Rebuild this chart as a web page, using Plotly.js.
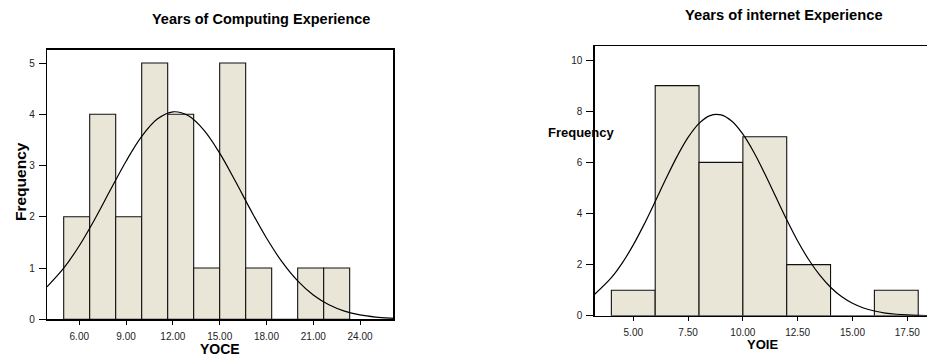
<!DOCTYPE html>
<html>
<head>
<meta charset="utf-8">
<script src="https://cdn.plot.ly/plotly-3.0.1.min.js"></script>
<style>html,body{margin:0;padding:0;background:#fff;}#chart{width:927px;height:364px;}</style>
</head>
<body>
<div id="chart"></div>
<script>
// ---- Data: Years of Computing Experience (YOCE) ----
const yoceBinStart = 5.0;
const yoceBinWidth = 5 / 3;
const yoceCounts = [2, 4, 2, 5, 4, 1, 5, 1, 0, 1, 1];
// normal curve overlay
const yoceCurveX = [3.93, 5, 6, 7, 8, 9, 10, 11, 12, 13, 14, 15, 16, 17, 18, 19, 20, 21, 22, 23, 24, 25, 26, 26.13];
const yoceCurveY = [0.635, 0.997, 1.436, 1.957, 2.526, 3.085, 3.568, 3.906, 4.048, 3.971, 3.687, 3.242, 2.698, 2.125, 1.585, 1.119, 0.748, 0.473, 0.283, 0.160, 0.086, 0.044, 0.021, 0.019];
const yoceXTicks = [6, 9, 12, 15, 18, 21, 24];
const yoceYTicks = [0, 1, 2, 3, 4, 5];

// ---- Data: Years of internet Experience (YOIE) ----
const yoieBinStart = 4.0;
const yoieBinWidth = 2.0;
const yoieCounts = [1, 9, 6, 7, 2, 0, 1];
const yoieCurveX = [3.24, 4, 4.5, 5, 5.5, 6, 6.5, 7, 7.5, 8, 8.5, 9, 9.5, 10, 10.5, 11, 11.5, 12, 12.5, 13, 13.5, 14, 14.5, 15, 15.5, 16, 16.5, 17, 17.5, 18, 18.4];
const yoieCurveY = [0.843, 1.489, 2.069, 2.774, 3.585, 4.470, 5.375, 6.234, 6.974, 7.524, 7.829, 7.857, 7.606, 7.101, 6.394, 5.553, 4.652, 3.758, 2.928, 2.201, 1.596, 1.116, 0.752, 0.489, 0.307, 0.186, 0.108, 0.061, 0.033, 0.017, 0.010];
const yoieXTicks = [5, 7.5, 10, 12.5, 15, 17.5];
const yoieYTicks = [0, 2, 4, 6, 8, 10];

const titles = ["Years of Computing Experience", "Years of internet Experience"];
const xTitles = ["YOCE", "YOIE"];
const yTitle = "Frequency";

// ---- helpers ----
const W = 927, H = 364;
const px = x => x / W;
const py = y => 1 - y / H;
const centers = (start, w, counts) => counts.map((_, i) => start + w * (i + 0.5));

const FONT = "Liberation Sans, Arial, sans-serif";
const barFill = "#E9E6D7";

const traces = [
  {
    type: "bar", x: centers(yoceBinStart, yoceBinWidth, yoceCounts), y: yoceCounts,
    width: yoceBinWidth, marker: {color: barFill, line: {color: "#111", width: 1.1}},
    xaxis: "x", yaxis: "y", hoverinfo: "skip"
  },
  {
    type: "scatter", mode: "lines", x: yoceCurveX, y: yoceCurveY,
    line: {color: "#000", width: 1.2, shape: "spline"}, xaxis: "x", yaxis: "y", hoverinfo: "skip"
  },
  {
    type: "bar", x: centers(yoieBinStart, yoieBinWidth, yoieCounts), y: yoieCounts,
    width: yoieBinWidth, marker: {color: barFill, line: {color: "#111", width: 1.1}},
    xaxis: "x2", yaxis: "y2", hoverinfo: "skip"
  },
  {
    type: "scatter", mode: "lines", x: yoieCurveX, y: yoieCurveY,
    line: {color: "#000", width: 1.2, shape: "spline"}, xaxis: "x2", yaxis: "y2", hoverinfo: "skip"
  }
];

const tickFont = {family: FONT, size: 10, color: "#222"};
const axisCommon = {
  showgrid: false, zeroline: false, showline: true, linecolor: "#000", linewidth: 1.3,
  ticks: "outside", tickcolor: "#000", tickwidth: 1, tickfont: tickFont, fixedrange: true
};

const ann = (text, x, y, size, extra) => Object.assign({
  text: "<b>" + text + "</b>", x: px(x), y: py(y), xref: "paper", yref: "paper",
  xanchor: "center", yanchor: "middle", showarrow: false,
  font: {family: FONT, size: size, color: "#000"}
}, extra || {});

const layout = {
  width: W, height: H, margin: {l: 0, r: 0, t: 0, b: 0},
  paper_bgcolor: "#fff", plot_bgcolor: "#fff", showlegend: false, bargap: 0,
  font: {family: FONT},
  xaxis: Object.assign({}, axisCommon, {
    domain: [px(47), px(393.3)], range: [3.93, 26.13], anchor: "y",
    tickmode: "array", tickvals: yoceXTicks, ticktext: yoceXTicks.map(v => v.toFixed(2)),
    ticklen: 4, mirror: true, ticklabelstandoff: 3
  }),
  yaxis: Object.assign({}, axisCommon, {
    domain: [py(319.3), py(49.7)], range: [0, 5.26], anchor: "x",
    tickmode: "array", tickvals: yoceYTicks, ticktext: yoceYTicks.map(String),
    ticklen: 7, mirror: true, ticklabelstandoff: 2
  }),
  xaxis2: Object.assign({}, axisCommon, {
    domain: [px(594.7), 1], range: [3.24, 18.4], anchor: "y2",
    tickmode: "array", tickvals: yoieXTicks, ticktext: yoieXTicks.map(v => v.toFixed(2)),
    ticklen: 4, mirror: true, ticklabelstandoff: 3
  }),
  yaxis2: Object.assign({}, axisCommon, {
    domain: [py(315.8), py(46)], range: [0, 10.55], anchor: "x2",
    tickmode: "array", tickvals: yoieYTicks, ticktext: yoieYTicks.map(String),
    ticklen: 7, mirror: false, ticklabelstandoff: 2
  }),
  annotations: [
    ann(titles[0], 261, 19, 14.5),
    ann(titles[1], 784, 15, 14.7),
    ann(xTitles[0], 220, 349, 14),
    ann(xTitles[1], 762, 344, 13),
    ann(yTitle, 20, 182, 15.5, {textangle: -90}),
    ann(yTitle, 581, 132, 13)
  ]
};

Plotly.newPlot("chart", traces, layout, {staticPlot: true, displayModeBar: false});
</script>
</body>
</html>
